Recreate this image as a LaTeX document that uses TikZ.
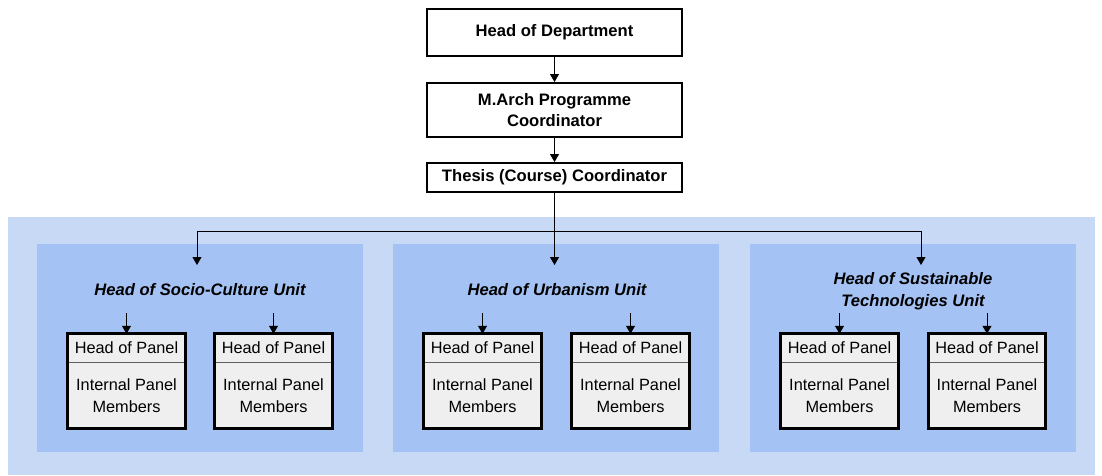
\documentclass[tikz,border=0pt]{standalone}
\usepackage{fontspec}
\setmainfont{Liberation Sans}
\usetikzlibrary{arrows.meta}
\definecolor{outerblue}{HTML}{C8D9F6}
\definecolor{innerblue}{HTML}{A4C2F3}
\definecolor{panelgray}{HTML}{EFEFEF}
\definecolor{divgray}{HTML}{606060}
\tikzset{
  topbox/.style={draw=black, line width=2pt, fill=white, minimum width=255pt, inner sep=0pt, align=center,
    font=\fontsize{16.6}{21}\selectfont\bfseries},
  unitbox/.style={fill=innerblue, draw=none, minimum width=326pt, minimum height=208pt, inner sep=0pt},
  unittitle/.style={font=\fontsize{16.6}{22}\selectfont\bfseries\itshape, align=center, inner sep=0pt},
  panelhead/.style={fill=panelgray, draw=none, minimum width=117pt, minimum height=28pt, inner sep=0pt,
    font=\fontsize{16.3}{21}\selectfont},
  panelbody/.style={fill=panelgray, draw=none, minimum width=117pt, minimum height=65pt, inner sep=0pt,
    align=center, font=\fontsize{16.3}{22}\selectfont},
  conn/.style={draw=black, line width=0.8pt},
  arr/.style={conn, -{Triangle[length=8pt,width=9pt]}},
}
\newcommand{\panel}[3]{%
  % #1 name, #2 center x, #3 arrow start name
  \node[panelhead] (#1h) at (#2,348) {Head of Panel};
  \node[panelbody] (#1b) at (#2,395.5) {Internal Panel\\Members};
  \draw[divgray, line width=1.3pt] (#1h.south west) -- (#1h.south east);
  \draw[black, line width=3pt] (#1h.north west) rectangle (#1b.south east);
  \coordinate (#3) at (#2,313);
  \draw[arr] (#3) -- (#1h.north);
}
\begin{document}
\begin{tikzpicture}[x=1pt,y=-1pt]
\useasboundingbox (0,0) rectangle (1102,475);
\fill[white] (0,0) rectangle (1102,475);
% outer band
\fill[outerblue] (8,217) rectangle (1095,475);
% unit boxes
\node[unitbox] (u1) at (199.5,348) {};
\node[unitbox] (u2) at (556,348) {};
\node[unitbox] (u3) at (913,348) {};
% top boxes
\node[topbox, minimum height=47pt] (hod) at (554.5,32.5) {Head of Department};
\node[topbox, minimum height=54pt] (mac) at (554.5,110) {M.Arch Programme\\Coordinator};
\node[topbox, minimum height=29pt] (tc) at (554.5,177.5) {Thesis (Course) Coordinator};
\draw[arr] (hod.south) -- (mac.north);
\draw[arr] (mac.south) -- (tc.north);
% distribution
\coordinate (jl) at (197,231);
\coordinate (jr) at (921,231);
\coordinate (al) at (197,265);
\coordinate (am) at (554.5,265);
\coordinate (ar) at (921,265);
\draw[conn] (jl) -- (jr);
\draw[arr] (tc.south) -- (am);
\draw[arr] (jl) -- (al);
\draw[arr] (jr) -- (ar);
% unit titles
\node[unittitle] (t1) at (200,290) {Head of Socio-Culture Unit};
\node[unittitle] (t2) at (557,290) {Head of Urbanism Unit};
\node[unittitle] (t3) at (913,291) {Head of Sustainable\\Technologies Unit};
% panels
\panel{p1}{126.5}{s1}
\panel{p2}{273.5}{s2}
\panel{p3}{482.5}{s3}
\panel{p4}{630.5}{s4}
\panel{p5}{839.5}{s5}
\panel{p6}{987}{s6}
\end{tikzpicture}
\end{document}
